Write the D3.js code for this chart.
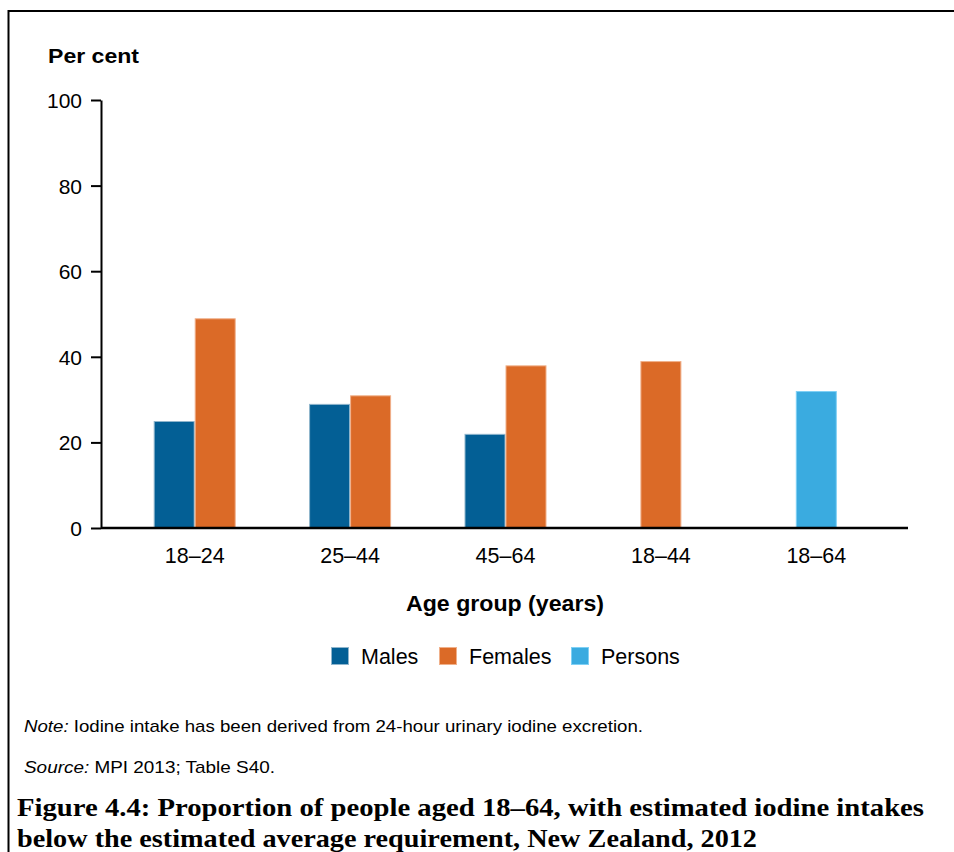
<!DOCTYPE html>
<html><head><meta charset="utf-8">
<script src="https://cdn.jsdelivr.net/npm/d3@7"></script>
<style>body{margin:0;background:#fff}svg{display:block}</style>
</head><body>
<script>
const categories = ["18–24","25–44","45–64","18–44","18–64"];
const seriesNames = ["Males","Females","Persons"];
const males   = [25, 29, 22, null, null];
const females = [49, 31, 38, 39, null];
const persons = [null, null, null, null, 32];
const yTicks = [0,20,40,60,80,100];
const colors = ["#035f95","#db6a27","#3aabe0"];
const strokes = ["#8fb5cc","#f0b08a","#7fd0f5"];

const W=954,H=852;
const FONT="Liberation Sans, Arial";
const svg=d3.select("body").append("svg").attr("width",W).attr("height",H);
svg.append("path").attr("d","M8.5,852 V11 H954").attr("fill","none").attr("stroke","#000").attr("stroke-width",2);

const y=d3.scaleLinear().domain([0,100]).range([528,100]);
const x=d3.scaleBand().domain(categories).range([117,894]);
const barW=41;

const seriesData=[males,females,persons];
categories.forEach((c,i)=>{
  const present=seriesData.map((s,k)=>({k,v:s[i]})).filter(d=>d.v!=null);
  const cx=x(c)+x.bandwidth()/2;
  const x0=cx-present.length*barW/2;
  present.forEach((d,j)=>{
    svg.append("rect").attr("x",x0+j*barW+0.5).attr("y",y(d.v)+0.5)
      .attr("width",barW-1).attr("height",y(0)-y(d.v)-0.5)
      .attr("fill",colors[d.k]).attr("stroke",strokes[d.k]).attr("stroke-width",1);
  });
});

const ya=svg.append("g").attr("transform","translate(101,0)")
  .call(d3.axisLeft(y).tickValues(yTicks).tickSize(10).tickSizeOuter(0).tickPadding(9));
ya.select(".domain").attr("stroke","#000").attr("stroke-width",2);
ya.selectAll(".tick line").attr("stroke","#000").attr("stroke-width",2);
ya.selectAll("text").attr("font-family",FONT).attr("font-size",21).attr("fill","#000").attr("dy","0.36em");

const xa=svg.append("g").attr("transform","translate(0,528)")
  .call(d3.axisBottom(x).tickSize(0).tickPadding(20));
xa.select(".domain").attr("d","M101,0H908").attr("stroke","#000").attr("stroke-width",2.5);
xa.selectAll("text").attr("font-family",FONT).attr("font-size",21.5).attr("fill","#000");

svg.append("text").attr("x",48).attr("y",63).text("Per cent")
  .attr("font-family",FONT).attr("font-weight","bold").attr("font-size",21)
  .attr("textLength",91).attr("lengthAdjust","spacingAndGlyphs");
svg.append("text").attr("x",505).attr("y",611).attr("text-anchor","middle").text("Age group (years)")
  .attr("font-family",FONT).attr("font-weight","bold").attr("font-size",22)
  .attr("textLength",198).attr("lengthAdjust","spacingAndGlyphs");

const legX=[331,439,571];
seriesNames.forEach((n,i)=>{
  svg.append("rect").attr("x",legX[i]+0.5).attr("y",647.5).attr("width",17).attr("height",17)
    .attr("fill",colors[i]).attr("stroke",strokes[i]);
  svg.append("text").attr("x",legX[i]+30).attr("y",664).text(n)
    .attr("font-family",FONT).attr("font-size",21.5);
});

const note=svg.append("text").attr("x",24).attr("y",732).attr("font-family",FONT).attr("font-size",17)
  .attr("textLength",619).attr("lengthAdjust","spacingAndGlyphs");
note.append("tspan").attr("font-style","italic").text("Note:");
note.append("tspan").text(" Iodine intake has been derived from 24-hour urinary iodine excretion.");
const src=svg.append("text").attr("x",24).attr("y",773).attr("font-family",FONT).attr("font-size",17)
  .attr("textLength",251).attr("lengthAdjust","spacingAndGlyphs");
src.append("tspan").attr("font-style","italic").text("Source:");
src.append("tspan").text(" MPI 2013; Table S40.");

const t1="Figure 4.4: Proportion of people aged 18–64, with estimated iodine intakes";
const t2="below the estimated average requirement, New Zealand, 2012";
svg.append("text").attr("x",17).attr("y",816).text(t1).attr("font-family","Liberation Serif, serif")
  .attr("font-weight","bold").attr("font-size",25).attr("textLength",907).attr("lengthAdjust","spacingAndGlyphs");
svg.append("text").attr("x",17).attr("y",847).text(t2).attr("font-family","Liberation Serif, serif")
  .attr("font-weight","bold").attr("font-size",25).attr("textLength",740).attr("lengthAdjust","spacingAndGlyphs");
</script>
</body></html>
